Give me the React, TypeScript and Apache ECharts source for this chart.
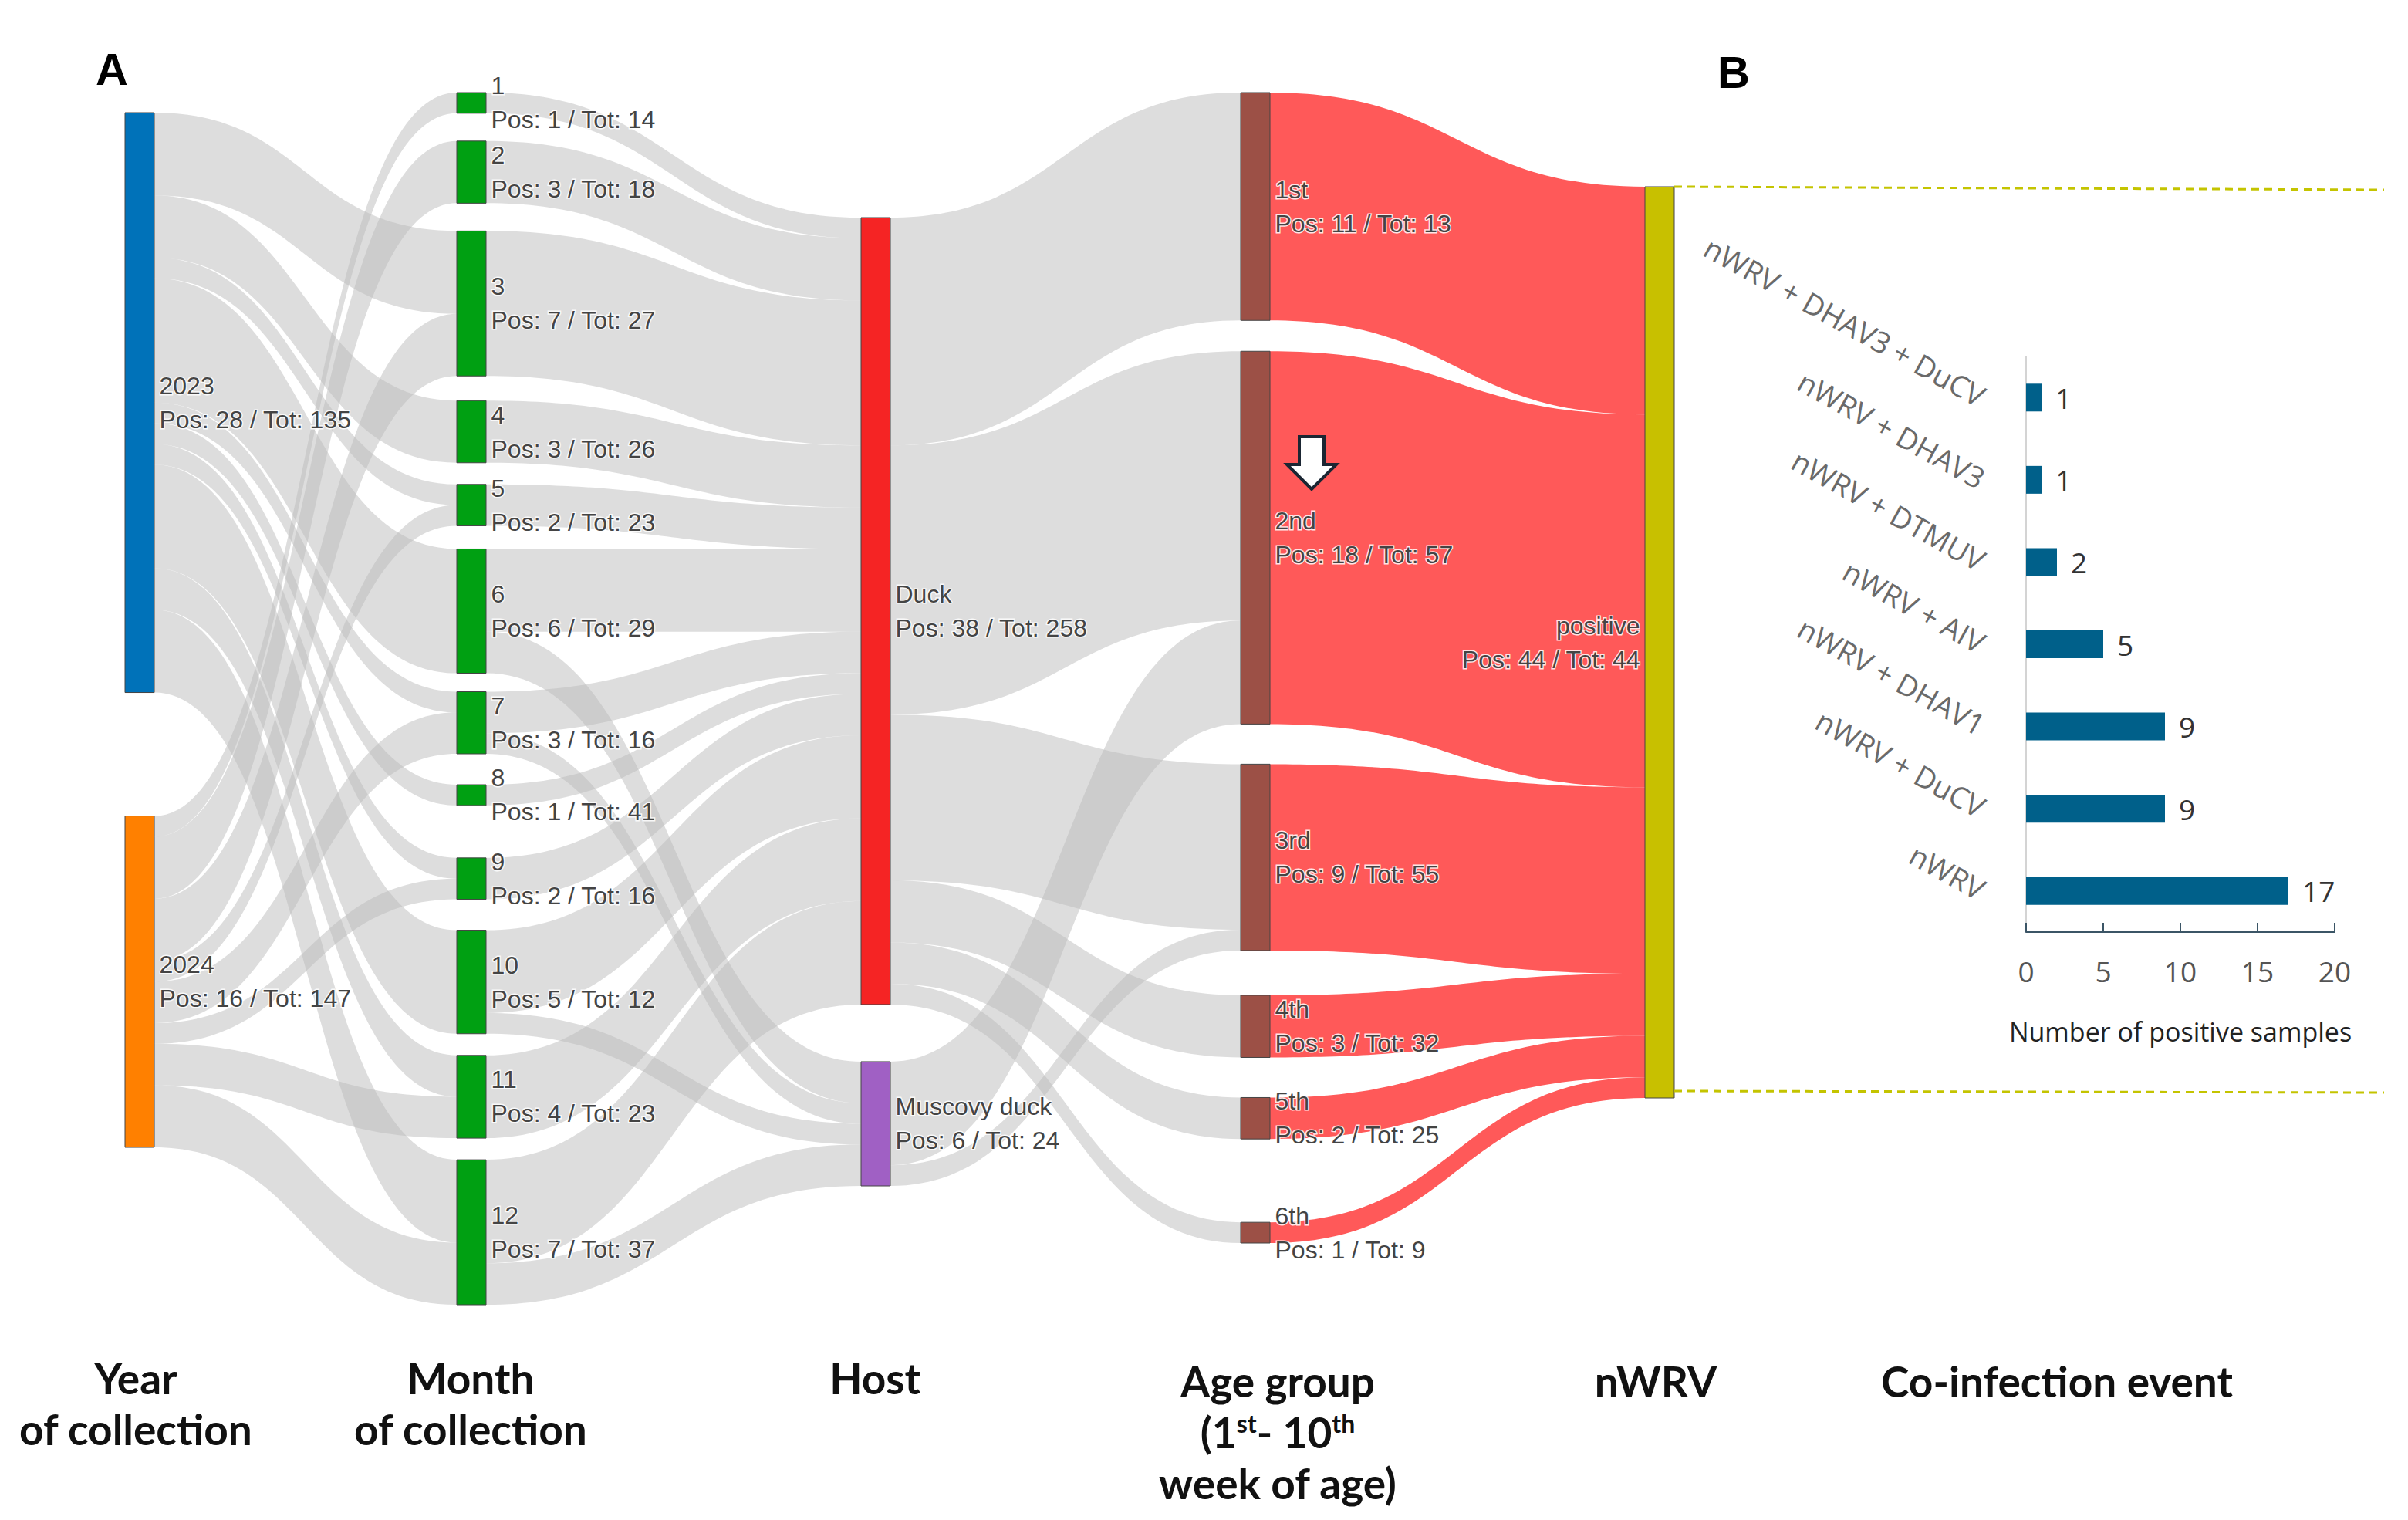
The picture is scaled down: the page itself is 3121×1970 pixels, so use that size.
import React, { useEffect, useRef } from 'react';
import * as echarts from 'echarts';

// ---------------- data ----------------
const years = ['2023', '2024'];
const yearTot = [135, 147];
const months = ['1', '2', '3', '4', '5', '6', '7', '8', '9', '10', '11', '12'];
const monthTot = [14, 18, 27, 26, 23, 29, 16, 41, 16, 12, 23, 37];
const hosts = ['Duck', 'Muscovy duck'];
const hostTot = [258, 24];
const ages = ['1st', '2nd', '3rd', '4th', '5th', '6th'];
const ageTot = [13, 57, 55, 32, 25, 9];
const outcome = 'positive';
const outcomeTot = 44;

// positive samples flowing between columns
const y2023ToMonth = [0, 0, 4, 3, 1, 6, 1, 1, 1, 5, 2, 4];
const y2024ToMonth = [1, 3, 3, 0, 1, 0, 2, 0, 1, 0, 2, 3];
const monthToDuck = [1, 3, 7, 3, 2, 4, 2, 1, 2, 4, 4, 5];
const monthToMuscovy = [0, 0, 0, 0, 0, 2, 1, 0, 0, 1, 0, 2];
const duckToAge = [11, 13, 8, 3, 2, 1];
const muscovyToAge = [0, 5, 1, 0, 0, 0];
const ageToPositive = [11, 18, 9, 3, 2, 1];

// co-infection bar chart
const coCategories = [
  'nWRV',
  'nWRV + DuCV',
  'nWRV + DHAV1',
  'nWRV + AIV',
  'nWRV + DTMUV',
  'nWRV + DHAV3',
  'nWRV + DHAV3 + DuCV',
];
const coCounts = [17, 9, 9, 5, 2, 1, 1];
const coAxisMin = 0;
const coAxisMax = 20;
const coAxisStep = 5;

// ---------------- layout / style ----------------
const SK = { left: 162, top: 120, width: 2008, height: 1566, nodeWidth: 38, nodeGap: 35 };
const colX = [0, 430, 954, 1446, 1970];
// spacing (px) between consecutive nodes of each column
const yearLayout = { top: 26, gaps: [160] };
const monthLayout = { top: 0, gaps: [36, 36, 32, 28, 30, 24, 40, 68, 40, 28, 28] };
const hostLayout = { top: 162, gaps: [74] };
const ageLayout = { top: 0, gaps: [40, 52, 58, 52, 108] };
const outcomeLayout = { top: 122, gaps: [] as number[] };

const yearColors = ['#0072b9', '#ff8000'];
const monthColor = '#00a012';
const hostColors = ['#f52424', '#a060c4'];
const ageColor = '#9c5046';
const outcomeColor = '#c8c000';

const sum = (a: number[]) => a.reduce((s, v) => s + v, 0);

export default function App() {
  const ref = useRef<HTMLDivElement>(null);

  useEffect(() => {
    if (!ref.current) return;
    const chart = echarts.init(ref.current, undefined, { renderer: 'svg' });

    const yearPos = [sum(y2023ToMonth), sum(y2024ToMonth)];
    const monthPos = months.map((_, i) => y2023ToMonth[i] + y2024ToMonth[i]);
    const hostPos = [sum(monthToDuck), sum(monthToMuscovy)];
    const agePos = ages.map((_, i) => duckToAge[i] + muscovyToAge[i]);
    const outPos = sum(ageToPositive);
    const totalPos = sum(monthPos);

    const posMap: Record<string, number> = {};
    const totMap: Record<string, number> = {};
    years.forEach((n, i) => { posMap[n] = yearPos[i]; totMap[n] = yearTot[i]; });
    months.forEach((n, i) => { posMap[n] = monthPos[i]; totMap[n] = monthTot[i]; });
    hosts.forEach((n, i) => { posMap[n] = hostPos[i]; totMap[n] = hostTot[i]; });
    ages.forEach((n, i) => { posMap[n] = agePos[i]; totMap[n] = ageTot[i]; });
    posMap[outcome] = outPos; totMap[outcome] = outcomeTot;

    // same vertical scale ECharts uses for node heights
    const ky = (SK.height - (months.length - 1) * SK.nodeGap) / totalPos;
    const stack = (vals: number[], lay: { top: number; gaps: number[] }) => {
      const res: number[] = [];
      let y = lay.top;
      vals.forEach((v, i) => { res.push(y / SK.height); y += v * ky + (lay.gaps[i] ?? 0); });
      return res;
    };
    const yearY = stack(yearPos, yearLayout);
    const monthY = stack(monthPos, monthLayout);
    const hostY = stack(hostPos, hostLayout);
    const ageY = stack(agePos, ageLayout);
    const outY = stack([outPos], outcomeLayout);

    const mk = (name: string, color: string, col: number, ly: number, pos: 'left' | 'right' = 'right') => ({
      name,
      localX: colX[col] / SK.width,
      localY: ly,
      itemStyle: { color, borderColor: '#444', borderWidth: 1 },
      label: { position: pos },
    });

    const nodes = [
      ...years.map((n, i) => mk(n, yearColors[i], 0, yearY[i])),
      ...months.map((n, i) => mk(n, monthColor, 1, monthY[i])),
      ...hosts.map((n, i) => mk(n, hostColors[i], 2, hostY[i])),
      ...ages.map((n, i) => mk(n, ageColor, 3, ageY[i])),
      mk(outcome, outcomeColor, 4, outY[0], 'left'),
    ];

    const links: any[] = [];
    const add = (s: string, t: string, v: number, red = false) => {
      if (v > 0) {
        links.push(red
          ? { source: s, target: t, value: v, lineStyle: { color: '#ff0000', opacity: 0.65 } }
          : { source: s, target: t, value: v });
      }
    };
    months.forEach((m, i) => { add(years[0], m, y2023ToMonth[i]); add(years[1], m, y2024ToMonth[i]); });
    months.forEach((m, i) => { add(m, hosts[0], monthToDuck[i]); add(m, hosts[1], monthToMuscovy[i]); });
    ages.forEach((a, i) => { add(hosts[0], a, duckToAge[i]); add(hosts[1], a, muscovyToAge[i]); });
    ages.forEach((a, i) => add(a, outcome, ageToPositive[i], true));

    const labelFont = 'Liberation Sans, Arial, sans-serif';
    const headFont = 'Lato, Open Sans, sans-serif';
    const head = (text: string, x: number, y: number) => ({
      type: 'text', x, y, z: 100,
      style: { text, fill: '#111', font: `bold 55px ${headFont}`, textAlign: 'center', textVerticalAlign: 'middle' },
    });

    chart.setOption({
      animation: false,
      backgroundColor: '#fff',
      grid: { left: 2626, top: 462, width: 400, height: 746, containLabel: false },
      xAxis: {
        type: 'value',
        min: coAxisMin,
        max: coAxisMax,
        interval: coAxisStep,
        axisLine: { show: true, lineStyle: { color: '#3b5566', width: 2 } },
        axisTick: { show: true, inside: true, length: 12, lineStyle: { color: '#3b5566', width: 2 } },
        splitLine: { show: false },
        axisLabel: { color: '#555', fontSize: 37, margin: 32, fontFamily: 'Open Sans, sans-serif' },
        name: 'Number of positive samples',
        nameLocation: 'middle',
        nameGap: 112,
        nameTextStyle: { color: '#222', fontSize: 34, fontFamily: 'Open Sans, sans-serif' },
      },
      yAxis: {
        type: 'category',
        data: coCategories,
        axisLine: { show: true, lineStyle: { color: '#d4d4d4', width: 2 } },
        axisTick: { show: false },
        axisLabel: { color: '#6a6a6a', fontSize: 38, rotate: -29, margin: 56, fontFamily: 'Open Sans, sans-serif' },
      },
      series: [
        {
          type: 'sankey',
          left: SK.left,
          top: SK.top,
          width: SK.width,
          height: SK.height,
          nodeWidth: SK.nodeWidth,
          nodeGap: SK.nodeGap,
          layoutIterations: 0,
          draggable: false,
          emphasis: { disabled: true },
          data: nodes,
          links,
          lineStyle: { color: '#bcbcbc', opacity: 0.5, curveness: 0.5 },
          label: {
            show: true,
            position: 'right',
            distance: 6,
            color: '#444',
            fontSize: 32,
            lineHeight: 44,
            fontFamily: labelFont,
            textBorderColor: 'rgba(255,255,255,0.85)',
            textBorderWidth: 3,
            formatter: (p: any) => `${p.name}\nPos: ${posMap[p.name]} / Tot: ${totMap[p.name]}`,
          },
        },
        {
          type: 'bar',
          data: coCounts,
          barWidth: 36,
          itemStyle: { color: '#00608a' },
          label: { show: true, position: 'right', distance: 18, color: '#333', fontSize: 37, fontFamily: 'Open Sans, sans-serif' },
        },
      ],
      graphic: [
        { type: 'text', x: 124, y: 60, z: 100, style: { text: 'A', fill: '#000', font: 'bold 58px Liberation Sans, Arial, sans-serif' } },
        { type: 'text', x: 2226, y: 64, z: 100, style: { text: 'B', fill: '#000', font: 'bold 58px Liberation Sans, Arial, sans-serif' } },
        { type: 'line', z: 100, shape: { x1: 2170, y1: 242, x2: 3090, y2: 246 }, style: { stroke: '#c4c400', lineWidth: 3, lineDash: [10, 7] } },
        { type: 'line', z: 100, shape: { x1: 2170, y1: 1414, x2: 3090, y2: 1416 }, style: { stroke: '#c4c400', lineWidth: 3, lineDash: [10, 7] } },
        {
          type: 'polygon',
          z: 100,
          shape: { points: [[1684, 566], [1716, 566], [1716, 602], [1732, 602], [1700, 634], [1668, 602], [1684, 602]] },
          style: { fill: '#ffffff', stroke: '#1b2633', lineWidth: 4 },
        },
        head('Year', 176, 1786),
        head('of collection', 176, 1852),
        head('Month', 610, 1786),
        head('of collection', 610, 1852),
        head('Host', 1134, 1786),
        head('Age group', 1656, 1790),
        {
          type: 'text', x: 1656, y: 1856, z: 100,
          style: {
            text: '(1{sup|st}- 10{sup|th}',
            fill: '#111', font: `bold 55px ${headFont}`, textAlign: 'center', textVerticalAlign: 'middle',
            rich: { sup: { fontSize: 32, fontWeight: 'bold', fontFamily: headFont, fill: '#111', verticalAlign: 'top' } },
          },
        },
        head('week of age)', 1656, 1922),
        head('nWRV', 2146, 1790),
        head('Co-infection event', 2666, 1790),
      ],
    });

    return () => chart.dispose();
  }, []);

  return <div ref={ref} style={{ position: 'fixed', left: 0, top: 0, width: 3121, height: 1970, background: '#fff' }} />;
}
